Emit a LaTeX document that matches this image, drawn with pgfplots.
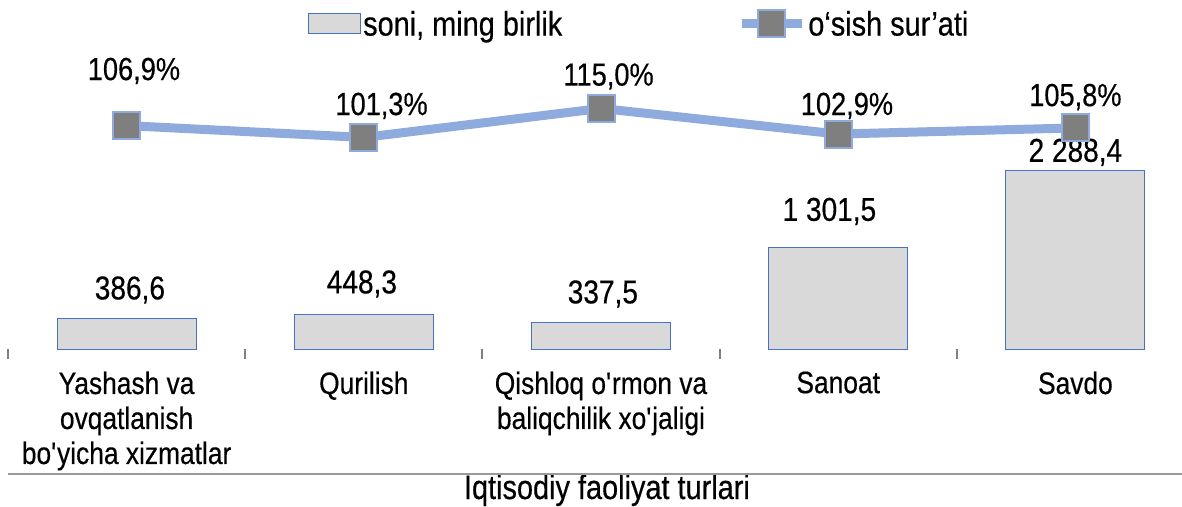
\documentclass[border=0pt]{standalone}
\usepackage{fontspec}
\setmainfont{Liberation Sans}[FakeStretch=0.85, FakeBold=0.4]
\usepackage{pgfplots}
\pgfplotsset{compat=1.18}
\definecolor{barfill}{HTML}{D9D9D9}
\definecolor{barline}{HTML}{4472C4}
\definecolor{lineblue}{HTML}{8FAADC}
\definecolor{markgray}{HTML}{7F7F7F}
\newcommand\lf{\fontsize{31}{35}\selectfont}
\newcommand\df{\fontsize{32}{36}\selectfont}
\newcommand\barfont{\fontsize{33}{36}\selectfont}
\newcommand\gf{\fontsize{34}{38}\selectfont}
\pgfplotsset{
  barlegend/.style={legend image code/.code={\draw[##1] (0pt,-10pt) rectangle (52pt,10pt);}},
  linelegend/.style={legend image code/.code={\draw[mark repeat=2, mark phase=2, ##1] plot coordinates {(0pt,0pt) (30pt,0pt) (60pt,0pt)};}},
}
\begin{document}
\begin{tikzpicture}
\begin{axis}[
  at={(8pt,157pt)}, anchor=south west, scale only axis,
  width=1186pt, height=299pt,
  xmin=-0.5, xmax=4.5, ymin=0, ymax=3835,
  axis y line=none, axis x line*=bottom,
  x axis line style={draw=none},
  xtick={0,1,2,3,4},
  xticklabels={{Yashash va\\ovqatlanish\\bo\textquotesingle yicha xizmatlar},
    Qurilish,
    {Qishloq o\textquotesingle rmon va\\baliqchilik xo\textquotesingle jaligi},
    Sanoat, Savdo},
  xticklabel style={align=center, font=\lf, yshift=-19pt},
  xtick align=outside,
  major tick length=0pt,
  extra x ticks={-0.5,0.5,1.5,2.5,3.5,4.5},
  extra x tick labels={},
  extra x tick style={major tick length=10pt, tick style={draw=black!50, line width=2pt}},
  xlabel={Iqtisodiy faoliyat turlari},
  xlabel style={font=\gf, at={(axis description cs:0.505,-0.5017)}, anchor=base},
  legend columns=2,
  legend style={draw=none, fill=none, font=\gf,
    at={(axis description cs:0.2504,1.087)}, anchor=west,
    /tikz/every even column/.append style={column sep=173pt}},
  clip=false,
]
\addplot[ybar, bar width=139pt, fill=barfill, draw=barline, line width=1pt, barlegend]
  coordinates {(0,386.6) (1,448.3) (2,337.5) (3,1301.5) (4,2288.4)};
\addlegendentry{soni, ming birlik}
\addlegendimage{lineblue, line width=9pt, mark=square*,
  mark options={fill=markgray, draw=lineblue, line width=2pt, mark size=13.5pt}, linelegend}
\addlegendentry{o‘sish sur’ati}
\addplot[draw=none, mark=none, forget plot, point meta=explicit,
  nodes near coords={\pgfmathprintnumber[fixed, fixed zerofill, precision=1, use comma, 1000 sep={\ }, assume math mode=true]{\pgfplotspointmeta}},
  nodes near coords style={font=\barfont, anchor=center, text=black}]
  table[meta=m] {
  x y m
  0.014 757 386.6
  0.992 834 448.3
  2.008 706 337.5
  2.963 1765 1301.5
  4.0 2522 2288.4
  };
\end{axis}
\begin{axis}[
  at={(8pt,157pt)}, anchor=south west, scale only axis,
  width=1186pt, height=299pt,
  xmin=-0.5, xmax=4.5, ymin=1.4, ymax=142.6,
  hide axis, clip=false,
]
\addplot[lineblue, line width=9pt, mark=square*,
  mark options={fill=markgray, draw=lineblue, line width=2pt, mark size=13.5pt}]
  coordinates {(0,106.9) (1,101.3) (2,115.0) (3,102.9) (4,105.8)};
\addplot[draw=none, mark=none, point meta=explicit,
  nodes near coords={\pgfmathprintnumber[fixed, fixed zerofill, precision=1, use comma, assume math mode=true]{\pgfplotspointmeta}\%},
  nodes near coords style={font=\df, anchor=center, text=black}]
  table[meta=m] {
  x y m
  0.031 132.7 106.9
  1.075 116.2 101.3
  2.032 130.1 115.0
  3.037 116.2 102.9
  4.0 120.4 105.8
  };
\end{axis}
\draw[black!40, line width=2pt] (8pt,32pt) -- (1190pt,32pt);
\pgfresetboundingbox
\path[use as bounding box] (0pt,0pt) rectangle (1182pt,506pt);
\end{tikzpicture}
\end{document}
